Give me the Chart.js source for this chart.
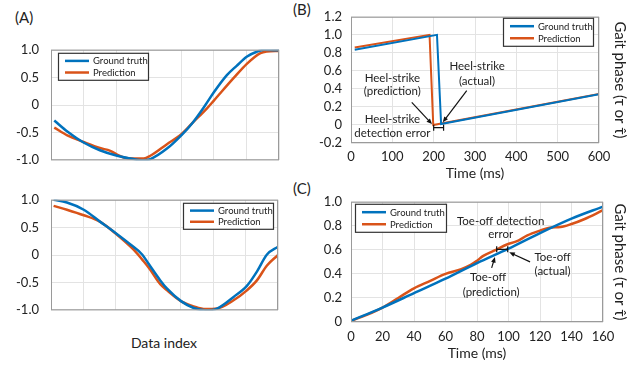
<!DOCTYPE html>
<html>
<head>
<meta charset="utf-8">
<script src="https://cdn.jsdelivr.net/npm/chart.js@4"></script>
<style>
  body { margin: 0; background: #fff; }
  #wrap { position: relative; width: 644px; height: 367px; overflow: hidden; font-family: Lato, sans-serif; color: #222; }
  #wrap canvas, .lbl { position: absolute; }
  .lbl { font-size: 15px; white-space: nowrap; line-height: 18px; }
</style>
</head>
<body>
<div id="wrap">
  <div class="lbl" style="left:15px;top:8px">(A)</div>
  <div class="lbl" style="left:293px;top:0px">(B)</div>
  <div class="lbl" style="left:293px;top:179px">(C)</div>
  <div class="lbl" style="left:164px;top:334px;font-size:14px;transform:translateX(-50%)">Data index</div>
  <canvas id="chartA1" width="290" height="150" style="left:0;top:30px"></canvas>
  <canvas id="chartA2" width="290" height="150" style="left:0;top:180px"></canvas>
  <canvas id="chartB" width="344" height="185" style="left:300px;top:0"></canvas>
  <canvas id="chartC" width="344" height="182" style="left:300px;top:185px"></canvas>
</div>
<script>
// (A) upper panel - data index vs signal
const topIndexTruth = [1, 5, 10, 15, 20.3, 25.4, 28, 30.5, 35.6, 40, 43.5, 47.4, 50, 54, 57, 60.2, 63, 65.5, 70];
const topTruth = [-0.28, -0.48, -0.68, -0.82, -0.92, -0.98, -1.0, -0.98, -0.79, -0.55, -0.32, 0.0, 0.23, 0.54, 0.71, 0.88, 0.96, 1.0, 0.99];
const topIndexPred = [1, 5, 10, 15, 18.2, 20.3, 22.3, 25.4, 28.5, 30.5, 35.6, 40, 43.5, 47.9, 50, 56.1, 60.2, 64.3, 66.3, 70];
const topPred = [-0.41, -0.55, -0.67, -0.78, -0.83, -0.9, -0.95, -0.97, -0.97, -0.92, -0.71, -0.53, -0.32, -0.06, 0.08, 0.49, 0.75, 0.94, 0.97, 0.98];

// (A) lower panel
const botIndexTruth = [0.8, 4.9, 10.1, 15.2, 20.1, 24.5, 28.1, 30.1, 33.7, 35.8, 40.2, 44, 47.6, 51.2, 56.3, 60.4, 63.5, 66.6, 70];
const botTruth = [1.0, 0.95, 0.82, 0.6, 0.39, 0.19, 0.01, -0.16, -0.46, -0.61, -0.84, -0.96, -1.0, -0.97, -0.76, -0.56, -0.3, 0.01, 0.15];
const botIndexPred = [0.8, 4.9, 10.1, 15.2, 20.1, 25.4, 28.5, 30.5, 33.7, 35.8, 40.2, 44, 47.6, 51.2, 56.3, 60.4, 63.5, 66.6, 70];
const botPred = [0.89, 0.82, 0.72, 0.6, 0.38, 0.1, -0.11, -0.26, -0.53, -0.64, -0.84, -0.93, -0.98, -0.97, -0.82, -0.64, -0.46, -0.19, 0.0];

// (B) heel-strike
const heelTimeTruth = [9, 208, 218, 600];
const heelTruth = [0.835, 1.0, 0.01, 0.34];
const heelTimePred = [9, 190, 199, 600];
const heelPred = [0.86, 1.0, 0.0, 0.345];

// (C) toe-off
const toeTimeTruth = [0, 20, 40, 60, 80, 100, 120, 140, 160];
const toeTruth = [0.01, 0.12, 0.24, 0.36, 0.49, 0.61, 0.74, 0.86, 0.96];
const toeTimePred = [0, 10, 20, 30, 40, 50, 60, 70, 76, 80, 84, 92, 99, 105, 112, 120, 126, 133, 140, 148, 160];
const toePred = [0.01, 0.06, 0.12, 0.2, 0.28, 0.34, 0.4, 0.44, 0.475, 0.51, 0.55, 0.6, 0.645, 0.67, 0.72, 0.76, 0.785, 0.79, 0.815, 0.855, 0.93];

const seriesNames = ['Ground truth', 'Prediction'];
const blue = '#0072BD';
const orange = '#D95319';
const gridColor = '#e3e3e3';
const textColor = '#222';
const phaseTitle = 'Gait phase (\u03C4 or \u03C4\u0302)';

// annotations (data coordinates)
const heelNotes = [
  { text: 'Heel-strike', x: 100, y: 0.52 }, { text: '(prediction)', x: 100, y: 0.37 },
  { text: 'Heel-strike', x: 305, y: 0.655 }, { text: '(actual)', x: 305, y: 0.49 },
  { text: 'Heel-strike', x: 100, y: 0.064 }, { text: 'detection error', x: 100, y: -0.09 }
];
const heelArrows = [
  { from: [147, 0.25], to: [196, 0.01] },
  { from: [280, 0.38], to: [222, 0.03] }
];
const heelBracket = { x1: 200, x2: 224, y: -0.03 };

const toeNotes = [
  { text: 'Toe-off detection', x: 95, y: 0.84 }, { text: 'error', x: 95, y: 0.73 },
  { text: 'Toe-off', x: 128, y: 0.535 }, { text: '(actual)', x: 128, y: 0.425 },
  { text: 'Toe-off', x: 87, y: 0.37 }, { text: '(prediction)', x: 89, y: 0.25 }
];
const toeArrows = [
  { from: [113.7, 0.5], to: [100.5, 0.58] },
  { from: [89.3, 0.45], to: [91.4, 0.54] }
];
const toeBracket = { x1: 92.5, x2: 99.5, y: 0.605 };

function pts(xs, ys) {
  return xs.map((x, i) => ({ x: x, y: ys[i] }));
}

function fmt(v) {
  return Math.abs(v) < 1e-9 ? '0' : Number(v).toFixed(1);
}

// frame, boxed legend and annotations
const decor = {
  id: 'decor',
  afterDatasetsDraw(chart, args, opts) {
    const ctx = chart.ctx;
    const a = chart.chartArea;
    const sx = chart.scales.x, sy = chart.scales.y;
    ctx.save();
    ctx.strokeStyle = '#9a9a9a';
    ctx.lineWidth = 1;
    ctx.strokeRect(a.left + 0.5, a.top + 0.5, a.right - a.left - 1, a.bottom - a.top - 1);

    ctx.fillStyle = textColor;
    ctx.font = '11.5px Lato';
    ctx.textAlign = 'center';
    ctx.textBaseline = 'middle';
    (opts.notes || []).forEach(n => {
      ctx.fillText(n.text, sx.getPixelForValue(n.x), sy.getPixelForValue(n.y));
    });

    ctx.strokeStyle = '#111';
    ctx.fillStyle = '#111';
    ctx.lineWidth = 1.2;
    (opts.arrows || []).forEach(ar => {
      const x1 = sx.getPixelForValue(ar.from[0]), y1 = sy.getPixelForValue(ar.from[1]);
      const x2 = sx.getPixelForValue(ar.to[0]), y2 = sy.getPixelForValue(ar.to[1]);
      const ang = Math.atan2(y2 - y1, x2 - x1);
      ctx.beginPath();
      ctx.moveTo(x1, y1);
      ctx.lineTo(x2 - 4 * Math.cos(ang), y2 - 4 * Math.sin(ang));
      ctx.stroke();
      ctx.beginPath();
      ctx.moveTo(x2, y2);
      ctx.lineTo(x2 - 6 * Math.cos(ang - 0.4), y2 - 6 * Math.sin(ang - 0.4));
      ctx.lineTo(x2 - 6 * Math.cos(ang + 0.4), y2 - 6 * Math.sin(ang + 0.4));
      ctx.closePath();
      ctx.fill();
    });

    const br = opts.bracket;
    if (br) {
      const bx1 = sx.getPixelForValue(br.x1), bx2 = sx.getPixelForValue(br.x2);
      const by = sy.getPixelForValue(br.y);
      ctx.beginPath();
      ctx.moveTo(bx1, by); ctx.lineTo(bx2, by);
      ctx.moveTo(bx1, by - 3); ctx.lineTo(bx1, by + 3);
      ctx.moveTo(bx2, by - 3); ctx.lineTo(bx2, by + 3);
      ctx.stroke();
    }

    const lg = opts.legend;
    if (lg) {
      const bx = lg.side === 'left' ? a.left + lg.dx : a.right - lg.dx - lg.w;
      const by = a.top + lg.dy;
      ctx.fillStyle = '#fff';
      ctx.fillRect(bx, by, lg.w, lg.h);
      ctx.strokeStyle = '#333';
      ctx.lineWidth = 1.2;
      ctx.strokeRect(bx + 0.5, by + 0.5, lg.w, lg.h);
      ctx.font = '9.5px Lato';
      ctx.textAlign = 'left';
      chart.data.datasets.forEach((ds, i) => {
        const ly = by + lg.h * (i === 0 ? 0.3 : 0.73);
        ctx.strokeStyle = ds.borderColor;
        ctx.lineWidth = 2.5;
        ctx.beginPath();
        ctx.moveTo(bx + 7, ly); ctx.lineTo(bx + 31, ly);
        ctx.stroke();
        ctx.fillStyle = textColor;
        ctx.fillText(ds.label, bx + 35, ly + 0.5);
      });
    }
    ctx.restore();
  }
};

function makeChart(id, o) {
  const datasets = [
    { label: seriesNames[0], data: o.truth, borderColor: blue, borderWidth: o.lw, pointRadius: 0,
      cubicInterpolationMode: o.smooth ? 'monotone' : 'default', tension: 0 },
    { label: seriesNames[1], data: o.pred, borderColor: orange, borderWidth: o.lw, pointRadius: 0,
      cubicInterpolationMode: o.smooth ? 'monotone' : 'default', tension: 0 }
  ];
  const scales = {
    x: {
      type: 'linear', min: o.xMin, max: o.xMax,
      grid: { color: gridColor, drawTicks: false },
      border: { display: false },
      ticks: { display: o.xTicks, autoSkip: false, maxRotation: 0, stepSize: o.xStep, padding: o.xPad, color: textColor, font: { family: 'Lato', size: 13 } },
      title: { display: !!o.xTitle, text: o.xTitle, color: textColor, font: { family: 'Lato', size: 14 }, padding: { top: 0, bottom: o.xTitlePad } },
      afterFit: s => { s.height = o.xHeight; }
    },
    y: {
      min: o.yMin, max: o.yMax,
      grid: { color: gridColor, drawTicks: false },
      border: { display: false },
      ticks: { autoSkip: false, stepSize: o.yStep, padding: o.yPad, color: textColor, font: { family: 'Lato', size: 13 }, callback: v => fmt(v) },
      afterFit: s => { s.width = 51; }
    }
  };
  if (o.rightTitle) {
    scales.y2 = {
      type: 'linear', position: 'right',
      grid: { display: false }, border: { display: false }, ticks: { display: false },
      title: { display: true, text: o.rightTitle, color: textColor, font: { family: 'Lato', size: 15 }, padding: { top: 15, bottom: 0 } },
      afterFit: s => { s.width = o.rightWidth; }
    };
  }
  return new Chart(document.getElementById(id), {
    type: 'line',
    data: { datasets: datasets },
    options: {
      responsive: false,
      animation: false,
      layout: { padding: o.padding },
      scales: scales,
      plugins: {
        legend: { display: false },
        tooltip: { enabled: false },
        decor: o.decor
      }
    },
    plugins: [decor]
  });
}

makeChart('chartA1', {
  truth: pts(topIndexTruth, topTruth), pred: pts(topIndexPred, topPred), lw: 2.5, smooth: true,
  xMin: 0, xMax: 70, xStep: 10, xTicks: false, xHeight: 0, xPad: 0,
  yMin: -1, yMax: 1, yStep: 0.5, yPad: 12,
  padding: { top: 13, right: 11, bottom: 10, left: 0 },
  decor: { legend: { side: 'left', dx: 7, dy: 3, w: 90, h: 27 } }
});

makeChart('chartA2', {
  truth: pts(botIndexTruth, botTruth), pred: pts(botIndexPred, botPred), lw: 2.5, smooth: true,
  xMin: 0, xMax: 70, xStep: 10, xTicks: false, xHeight: 0, xPad: 0,
  yMin: -1, yMax: 1, yStep: 0.5, yPad: 12,
  padding: { top: 15, right: 12, bottom: 9, left: 0 },
  decor: { legend: { side: 'right', dx: 5, dy: 3, w: 90, h: 26 } }
});

makeChart('chartB', {
  truth: pts(heelTimeTruth, heelTruth), pred: pts(heelTimePred, heelPred), lw: 2, smooth: false,
  xMin: 0, xMax: 600, xStep: 100, xTicks: true, xHeight: 42, xPad: 6, xTitle: 'Time (ms)', xTitlePad: 3,
  yMin: -0.2, yMax: 1.2, yStep: 0.2, yPad: 9,
  rightTitle: phaseTitle, rightWidth: 45,
  padding: { top: 14, right: 0, bottom: 0, left: 0 },
  decor: { legend: { side: 'right', dx: 6, dy: 1, w: 90, h: 28 }, notes: heelNotes, arrows: heelArrows, bracket: heelBracket }
});

makeChart('chartC', {
  truth: pts(toeTimeTruth, toeTruth), pred: pts(toeTimePred, toePred), lw: 2.5, smooth: true,
  xMin: 0, xMax: 160, xStep: 20, xTicks: true, xHeight: 45, xPad: 7, xTitle: 'Time (ms)', xTitlePad: 5,
  yMin: 0, yMax: 1, yStep: 0.2, yPad: 9,
  rightTitle: phaseTitle, rightWidth: 41,
  padding: { top: 11, right: 0, bottom: 0, left: 0 },
  decor: { legend: { side: 'left', dx: 4, dy: 2, w: 91, h: 28 }, notes: toeNotes, arrows: toeArrows, bracket: toeBracket }
});
</script>
</body>
</html>
